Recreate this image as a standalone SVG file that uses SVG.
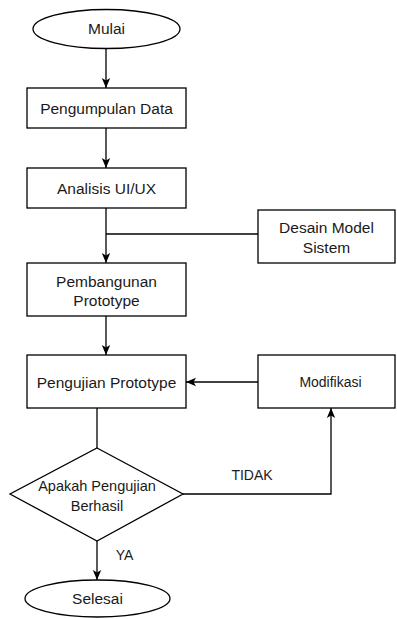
<svg xmlns="http://www.w3.org/2000/svg" width="397" height="619" viewBox="0 0 397 619">
  <style>
    .shape { fill: #ffffff; stroke: #000000; stroke-width: 1.3; }
    .edge { fill: none; stroke: #000000; stroke-width: 1.3; }
    .lbl { font-family: "Liberation Sans", Arial, Helvetica, sans-serif; font-size: 15.5px; fill: #1a1a1a; text-anchor: middle; }
    .sm { font-size: 14px; }
  </style>
  <defs>
    <marker id="arrow" viewBox="0 0 10 10" refX="10" refY="5" markerWidth="10" markerHeight="10" markerUnits="userSpaceOnUse" orient="auto">
      <path d="M0,0.8 L10,5 L0,9.2 L2.5,5 Z" fill="#000000"/>
    </marker>
  </defs>
  <rect width="397" height="619" fill="#ffffff"/>

  <g id="connectors">
    <path class="edge" d="M106,48.5 V88" marker-end="url(#arrow)"/>
    <path class="edge" d="M106,128 V168" marker-end="url(#arrow)"/>
    <path class="edge" d="M106,208 V263" marker-end="url(#arrow)"/>
    <path class="edge" d="M258,234 H106"/>
    <path class="edge" d="M106,316 V355" marker-end="url(#arrow)"/>
    <path class="edge" d="M258,382 H186" marker-end="url(#arrow)"/>
    <path class="edge" d="M97,408 V448"/>
    <path class="edge" d="M183,494 H331 V408" marker-end="url(#arrow)"/>
    <path class="edge" d="M97,541 V580" marker-end="url(#arrow)"/>
    <text class="lbl sm" x="252" y="480">TIDAK</text>
    <text class="lbl sm" x="124.5" y="560">YA</text>
  </g>

  <g id="mulai">
    <ellipse class="shape" cx="106.5" cy="29" rx="73.5" ry="19.5"/>
    <text class="lbl" x="106.5" y="34">Mulai</text>
  </g>
  <g id="pengumpulan-data">
    <rect class="shape" x="27" y="88" width="159" height="40"/>
    <text class="lbl" x="106.5" y="113.5">Pengumpulan Data</text>
  </g>
  <g id="analisis">
    <rect class="shape" x="27" y="168" width="159" height="40"/>
    <text class="lbl" x="106.5" y="193.5">Analisis UI/UX</text>
  </g>
  <g id="desain-model">
    <rect class="shape" x="258" y="210" width="137" height="53"/>
    <text class="lbl" x="326.5" y="232.5">Desain Model</text>
    <text class="lbl" x="326.5" y="252.5">Sistem</text>
  </g>
  <g id="pembangunan">
    <rect class="shape" x="27" y="263" width="159" height="53"/>
    <text class="lbl" x="106.5" y="286.5">Pembangunan</text>
    <text class="lbl" x="106.5" y="305.5">Prototype</text>
  </g>
  <g id="pengujian">
    <rect class="shape" x="27" y="355" width="159" height="53"/>
    <text class="lbl" x="106.5" y="387.5">Pengujian Prototype</text>
  </g>
  <g id="modifikasi">
    <rect class="shape" x="258" y="355" width="137" height="53"/>
    <text class="lbl sm" x="330.5" y="387">Modifikasi</text>
  </g>
  <g id="keputusan">
    <path class="shape" d="M97,448 L183,494 L97,541 L10,494 Z"/>
    <text class="lbl" x="97" y="491" style="font-size:14.5px">Apakah Pengujian</text>
    <text class="lbl" x="97" y="511" style="font-size:14.5px">Berhasil</text>
  </g>
  <g id="selesai">
    <ellipse class="shape" cx="97.5" cy="598.5" rx="72.5" ry="18.5"/>
    <text class="lbl" x="97.5" y="604">Selesai</text>
  </g>
</svg>
